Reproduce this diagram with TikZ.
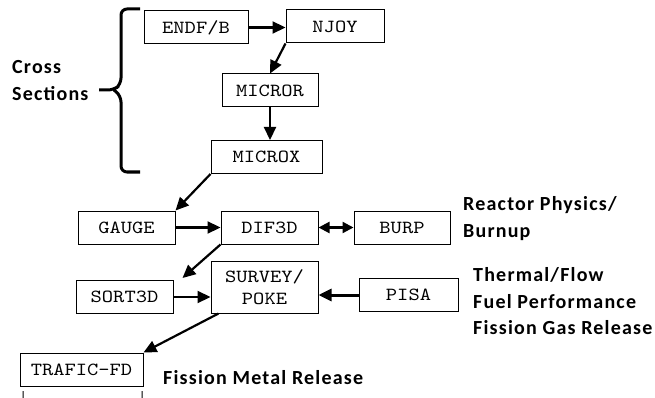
\documentclass[tikz,border=0pt]{standalone}
\usepackage{fontspec}
\setmainfont{Liberation Serif}
\newfontfamily\boxfont{lmmono10-regular}[Extension=.otf, FakeStretch=1.16]
\newfontfamily\lblfont{Carlito}[LetterSpace=6]
\usetikzlibrary{arrows.meta}

\begin{document}
\begin{tikzpicture}[x=1pt, y=-1pt, font=\boxfont\fontsize{18.5}{22}\selectfont,
    box/.style={draw, line width=1pt, minimum height=33pt, inner sep=0pt},
    flow/.style={-{Triangle[length=13pt, width=12pt]}, line width=2.2pt},
    lbl/.style={font=\lblfont\bfseries\fontsize{20}{27}\selectfont, align=left, anchor=west, inner sep=0pt}]
    \useasboundingbox (0,0) rectangle (655,398);
    \foreach \name/\x/\y/\w/\txt in {endf/196/27.5/104/{ENDF/B}, njoy/335/26.5/98/NJOY,
        micror/270/90.5/96/MICROR, microx/266.5/157/111/MICROX,
        gauge/126.5/227.5/97/GAUGE, dif3d/269.5/227.5/97/DIF3D, burp/402/227.5/96/BURP,
        sort3d/124.5/297/97/SORT3D, pisa/408.5/295/99/PISA, trafic/81.5/369.5/123/TRAFIC-FD} {
      \node[box, minimum width=\w pt] (\name) at (\x,\y) {\txt};
    }
    \node[box, minimum width=107pt, minimum height=52pt, align=center] (survey) at (264.5,287) {SURVEY/\\POKE};

    % connectors
    \draw[flow] (endf.east) -- (endf.east -| njoy.west);
    \draw[flow] (njoy.south west) -- (micror.north);
    \draw[flow] (micror.south) -- (micror.south |- microx.north);
    \draw[flow] (microx.south west) -- (gauge.north east);
    \draw[flow] (gauge) -- (dif3d);
    \draw[{Triangle[length=11pt, width=11pt]}-{Triangle[length=11pt, width=11pt]}, line width=2.2pt] (dif3d) -- (burp);
    \coordinate (sorttip) at ([shift={(9,-2)}]sort3d.north east);
    \draw[flow] (dif3d.south west) -- (sorttip);
    \draw[flow] (sort3d.east) -- (sort3d.east -| survey.west);
    \draw[flow, line width=3pt] (pisa.west) -- (pisa.west -| survey.east);
    \draw[flow] ([xshift=8pt]survey.south west) -- (trafic.north east);

    % braces
    \draw[line width=3pt, rounded corners=6pt] (140,9) -- (121,9) -- (121,84) -- (114,90) -- (99,90)
      (114,90) -- (121,96) -- (121,172) -- (140,172);
    \draw[line width=1pt, rounded corners=4pt] (23,391) -- (23,403) -- (142,403) -- (142,391);

    % labels
    \node[lbl] (xsec) at (12,81) {Cross\\Sections};
    \node[lbl] (phys) at (463,218.5) {Reactor Physics/\\Burnup};
    \node[lbl, font=\lblfont\bfseries\fontsize{20}{26.5}\selectfont] (therm) at (473,301.5) {Thermal/Flow\\Fuel Performance\\Fission Gas Release};
    \node[lbl] (metal) at (163,378) {Fission Metal Release};
\end{tikzpicture}
\end{document}
